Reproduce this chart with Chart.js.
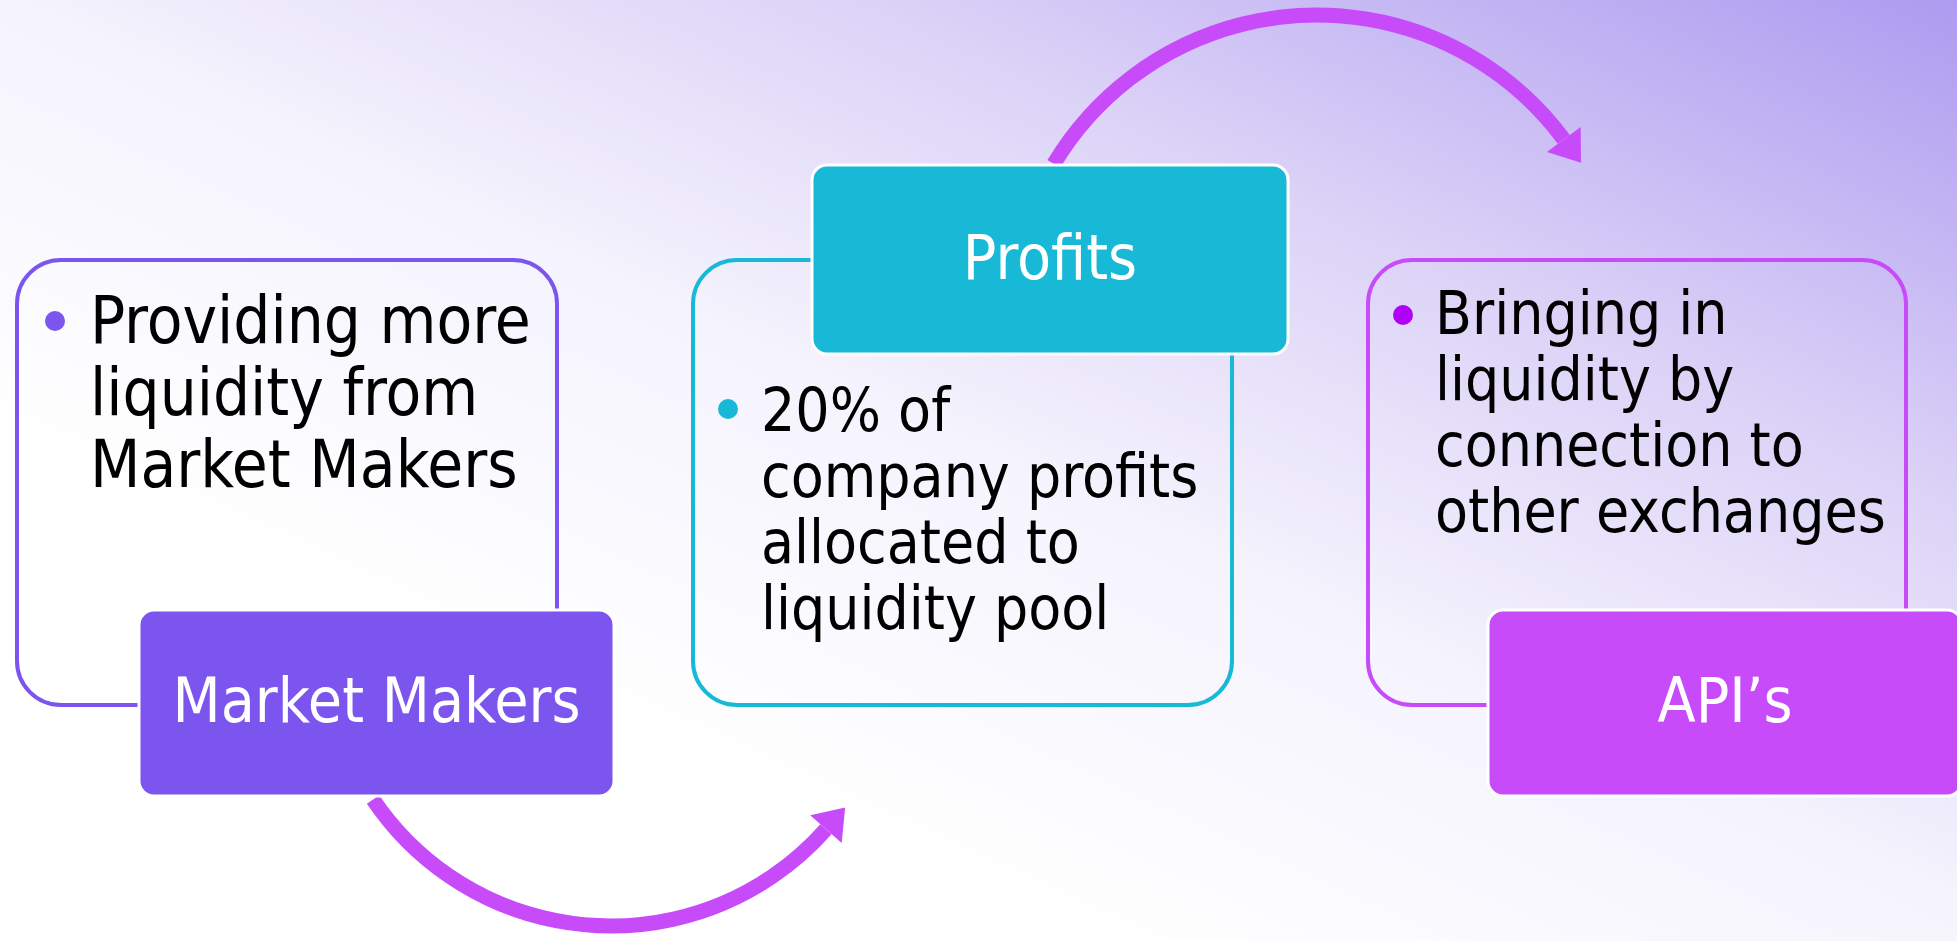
<!DOCTYPE html>
<html>
<head>
<meta charset="utf-8">
<script src="https://cdn.jsdelivr.net/npm/chart.js@4.4.0/dist/chart.umd.min.js"></script>
<style>
  html, body { margin: 0; padding: 0; overflow: hidden; background: #ffffff; }
  #wrap { width: 1957px; height: 941px; }
</style>
</head>
<body>
<div id="wrap"><canvas id="liquidityFlow" width="1957" height="941"></canvas></div>
<script>
// stages of the liquidity cycle
const stageTitles = ['Market Makers', 'Profits', 'API’s'];
const stageNotes = [
  ['Providing more', 'liquidity from', 'Market Makers'],
  ['20% of', 'company profits', 'allocated to', 'liquidity pool'],
  ['Bringing in', 'liquidity by', 'connection to', 'other exchanges']
];
const stageColors = ['#7b55ee', '#17b9d6', '#c84bfa'];
const bulletColors = ['#7b55ee', '#17b9d6', '#b000f5'];
const arrowColor = '#c84bfa';

const FONT = "'DejaVu Sans Condensed', 'Liberation Sans', sans-serif";

// layout in scale units (x: 0..1957, y: 0..941 top-down)
const layout = [
  { box: [17, 260, 557, 705], head: [139, 610, 614, 796], text: [90, 343], bullet: [55, 321], size: 65, lead: 72 },
  { box: [693, 260, 1232, 705], head: [812, 165, 1288, 354], text: [761, 431], bullet: [728, 409], size: 60, lead: 66 },
  { box: [1368, 260, 1906, 705], head: [1488, 610, 1962, 796], text: [1435, 334], bullet: [1403, 315], size: 60, lead: 66 }
];
const arcs = [
  { cx: 611, cy: 639, r: 287, from: 146, to: 41.5, ccw: true },
  { cx: 1317, cy: 322, r: 307, from: -149, to: -36.5, ccw: false }
];

function roundRect(ctx, x0, y0, x1, y1, rad) {
  ctx.beginPath();
  ctx.moveTo(x0 + rad, y0);
  ctx.lineTo(x1 - rad, y0);
  ctx.arcTo(x1, y0, x1, y0 + rad, rad);
  ctx.lineTo(x1, y1 - rad);
  ctx.arcTo(x1, y1, x1 - rad, y1, rad);
  ctx.lineTo(x0 + rad, y1);
  ctx.arcTo(x0, y1, x0, y1 - rad, rad);
  ctx.lineTo(x0, y0 + rad);
  ctx.arcTo(x0, y0, x0 + rad, y0, rad);
  ctx.closePath();
}

const backdrop = {
  id: 'backdrop',
  beforeDraw(chart) {
    const ctx = chart.ctx;
    const g = ctx.createLinearGradient(-168, 364, 345, -748);
    g.addColorStop(0, '#ffffff');
    g.addColorStop(0.33, '#f5f3fd');
    g.addColorStop(0.62, '#dcd3f7');
    g.addColorStop(1, '#ad9bf0');
    ctx.save();
    ctx.fillStyle = g;
    ctx.fillRect(0, 0, chart.width, chart.height);
    ctx.restore();
  }
};

const flowDiagram = {
  id: 'flowDiagram',
  afterDatasetsDraw(chart) {
    const ctx = chart.ctx;
    const xs = chart.scales.x, ys = chart.scales.y;
    const px = v => xs.getPixelForValue(v);
    const py = v => ys.getPixelForValue(v);
    const unit = Math.abs(px(1) - px(0));
    ctx.save();

    // curved arrows
    arcs.forEach(a => {
      const cx = px(a.cx), cy = py(a.cy), r = a.r * unit;
      const t0 = a.from * Math.PI / 180, t1 = a.to * Math.PI / 180;
      ctx.strokeStyle = arrowColor;
      ctx.lineWidth = 15 * unit;
      ctx.lineCap = 'butt';
      ctx.beginPath();
      ctx.arc(cx, cy, r, t0, t1, a.ccw);
      ctx.stroke();
      const bx = cx + r * Math.cos(t1), by = cy + r * Math.sin(t1);
      const dx = a.ccw ? Math.sin(t1) : -Math.sin(t1);
      const dy = a.ccw ? -Math.cos(t1) : Math.cos(t1);
      const nx = Math.cos(t1), ny = Math.sin(t1);
      const len = 29 * unit, half = 21 * unit;
      ctx.fillStyle = arrowColor;
      ctx.beginPath();
      ctx.moveTo(bx + dx * len, by + dy * len);
      ctx.lineTo(bx + nx * half, by + ny * half);
      ctx.lineTo(bx - nx * half, by - ny * half);
      ctx.closePath();
      ctx.fill();
    });

    layout.forEach((l, i) => {
      // outline card
      roundRect(ctx, px(l.box[0]), py(l.box[1]), px(l.box[2]), py(l.box[3]), 44 * unit);
      ctx.strokeStyle = stageColors[i];
      ctx.lineWidth = 4 * unit;
      ctx.stroke();

      // notes with bullet
      ctx.fillStyle = bulletColors[i];
      ctx.beginPath();
      ctx.arc(px(l.bullet[0]), py(l.bullet[1]), 10 * unit, 0, Math.PI * 2);
      ctx.fill();
      ctx.fillStyle = '#000000';
      ctx.font = (l.size * unit) + 'px ' + FONT;
      ctx.textAlign = 'left';
      ctx.textBaseline = 'alphabetic';
      stageNotes[i].forEach((line, k) => {
        ctx.fillText(line, px(l.text[0]), py(l.text[1] + k * l.lead));
      });
    });

    layout.forEach((l, i) => {
      // heading tab
      const x0 = px(l.head[0]), y0 = py(l.head[1]), x1 = px(l.head[2]), y1 = py(l.head[3]);
      roundRect(ctx, x0, y0, x1, y1, 15 * unit);
      ctx.fillStyle = stageColors[i];
      ctx.fill();
      ctx.strokeStyle = '#ffffff';
      ctx.lineWidth = 3 * unit;
      ctx.stroke();
      ctx.fillStyle = '#ffffff';
      ctx.font = (62 * unit) + 'px ' + FONT;
      ctx.textAlign = 'center';
      ctx.textBaseline = 'middle';
      ctx.fillText(stageTitles[i], (x0 + x1) / 2, (y0 + y1) / 2 + 3 * unit);
    });
    ctx.restore();
  }
};

new Chart(document.getElementById('liquidityFlow'), {
  type: 'scatter',
  data: {
    labels: stageTitles,
    datasets: [{ label: 'Stages', data: [], pointRadius: 0 }]
  },
  options: {
    responsive: false,
    animation: false,
    events: [],
    layout: { padding: 0 },
    plugins: { legend: { display: false }, tooltip: { enabled: false } },
    scales: {
      x: { type: 'linear', min: 0, max: 1957, display: false },
      y: { type: 'linear', min: 0, max: 941, reverse: true, display: false }
    }
  },
  plugins: [backdrop, flowDiagram]
});
</script>
</body>
</html>
